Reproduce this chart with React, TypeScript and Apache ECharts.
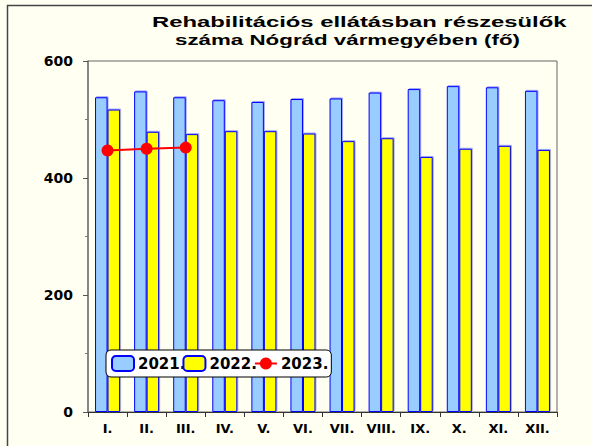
import React, { useEffect, useRef } from "react";
import * as echarts from "echarts";

const categories = ["I.", "II.", "III.", "IV.", "V.", "VI.", "VII.", "VIII.", "IX.", "X.", "XI.", "XII."];
const values2021 = [538, 548, 538, 533, 530, 535, 536, 546, 552, 557, 555, 549];
const values2022 = [517, 479, 475, 480, 480, 476, 463, 468, 436, 450, 455, 448];
const values2023 = [447, 450, 452, null, null, null, null, null, null, null, null, null];
const seriesNames = ["2021.", "2022.", "2023."];
const titleLines = ["Rehabilitációs ellátásban részesülők", "száma Nógrád vármegyében (fő)"];

const FONT = '"DejaVu Sans", Verdana, sans-serif';
const TITLE_FONT = '"Liberation Sans", Arial, sans-serif';

export default function App() {
  const ref = useRef<HTMLDivElement>(null);
  useEffect(() => {
    if (!ref.current) return;
    const chart = echarts.init(ref.current, null, { renderer: "svg" });
    const option: any = {
      animation: false,
      backgroundColor: "#FFFFF2",
      textStyle: { fontFamily: FONT },
      graphic: [
        {
          type: "rect",
          silent: true,
          shape: { x: 7.5, y: 5.5, width: 620, height: 470 },
          style: { fill: "none", stroke: "#444", lineWidth: 1.5 },
          z: -1,
        },
        {
          type: "text",
          x: 152,
          y: 22,
          scaleX: 1.59,
          style: { text: titleLines[0], font: `bold 15px ${TITLE_FONT}`, fill: "#000", align: "left", verticalAlign: "middle" },
        },
        {
          type: "text",
          x: 175,
          y: 40,
          scaleX: 1.49,
          style: { text: titleLines[1], font: `bold 15px ${TITLE_FONT}`, fill: "#000", align: "left", verticalAlign: "middle" },
        },
      ],
      grid: {
        left: 88,
        right: 35,
        top: 61,
        bottom: 34,
        show: true,
        borderColor: "#666",
        borderWidth: 1,
        backgroundColor: "transparent",
      },
      legend: {
        left: 106,
        top: 350,
        orient: "horizontal",
        data: seriesNames,
        itemWidth: 22,
        itemHeight: 15,
        itemGap: -3,
        padding: [5, 3, 5, 5],
        backgroundColor: "#fff",
        borderColor: "#000",
        borderWidth: 1,
        borderRadius: 5,
        textStyle: { fontFamily: FONT, fontWeight: "bold", fontSize: 15, color: "#000", padding: [0, 0, 0, -1] },
      },
      xAxis: {
        type: "category",
        data: categories,
        axisLine: { lineStyle: { color: "#333", width: 1 } },
        axisTick: { show: true, length: 5, lineStyle: { color: "#333" } },
        axisLabel: { fontFamily: FONT, fontWeight: "bold", fontSize: 13, color: "#000", margin: 10, interval: 0 },
      },
      yAxis: {
        type: "value",
        min: 0,
        max: 600,
        interval: 200,
        axisLine: { show: true, lineStyle: { color: "#777", width: 1.5 } },
        axisTick: { show: true, length: 5, lineStyle: { color: "#555" } },
        minorTick: { show: true, splitNumber: 2, length: 3, lineStyle: { color: "#777" } },
        splitLine: { show: false },
        axisLabel: { fontFamily: FONT, fontWeight: "bold", fontSize: 14, color: "#000", margin: 15 },
      },
      series: [
        {
          name: seriesNames[0],
          type: "bar",
          data: values2021,
          barGap: "0%",
          barCategoryGap: "36%",
          itemStyle: {
            color: "#99CCFF",
            borderColor: "#0000FF",
            borderWidth: 1,
            shadowColor: "rgba(0,0,255,0.35)",
            shadowOffsetX: 1,
            shadowOffsetY: -1,
            shadowBlur: 0,
          },
        },
        {
          name: seriesNames[1],
          type: "bar",
          data: values2022,
          barGap: "0%",
          barCategoryGap: "36%",
          itemStyle: {
            color: "#FFFF00",
            borderColor: "#0000FF",
            borderWidth: 1,
            shadowColor: "rgba(0,0,255,0.35)",
            shadowOffsetX: 1,
            shadowOffsetY: -1,
            shadowBlur: 0,
          },
        },
        {
          name: seriesNames[2],
          type: "line",
          data: values2023,
          symbol: "circle",
          symbolSize: 12,
          connectNulls: false,
          lineStyle: { color: "#FF0000", width: 2 },
          itemStyle: { color: "#FF0000" },
          z: 5,
        },
      ],
    };
    chart.setOption(option);
    return () => {
      chart.dispose();
    };
  }, []);
  return <div ref={ref} style={{ width: 592, height: 446, position: "absolute", left: 0, top: 0 }} />;
}
